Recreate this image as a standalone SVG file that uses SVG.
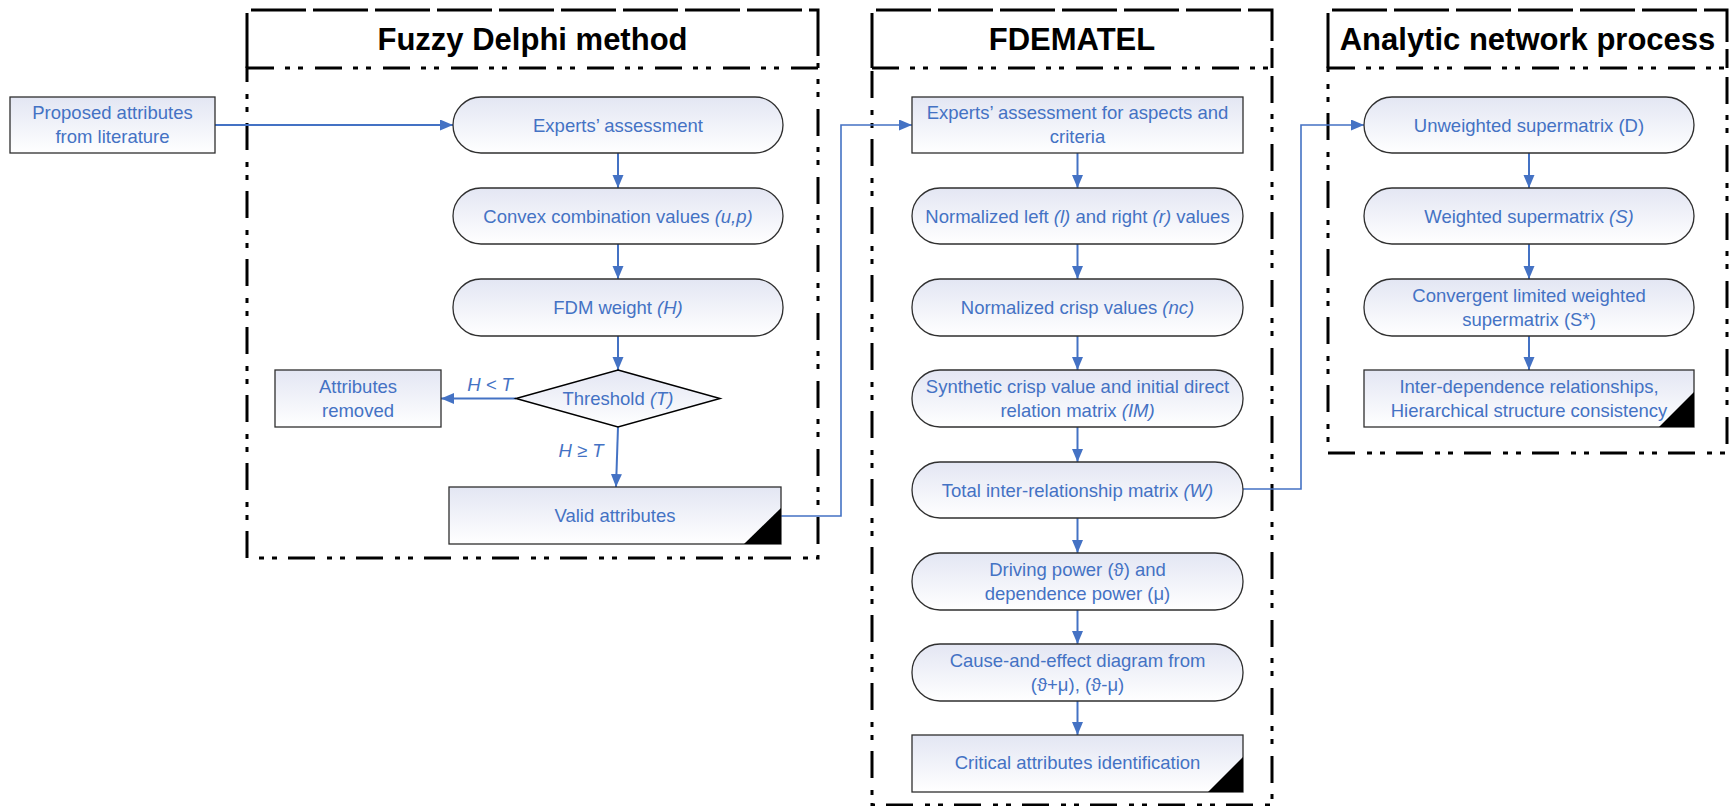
<svg xmlns="http://www.w3.org/2000/svg" width="1730" height="806" viewBox="0 0 1730 806">
<style>
.node{fill:url(#ng);stroke:#2F2F2F;stroke-width:1.3}
.dia{fill:url(#ng);stroke:#000;stroke-width:1.5}
.corner{fill:#000;stroke:none}
.t{font-family:'Liberation Sans',Arial,sans-serif;font-size:18.5px;fill:#4472C4;text-anchor:middle}
.i{font-style:italic}
.title{font-family:'Liberation Sans',Arial,sans-serif;font-size:31px;font-weight:bold;fill:#000;text-anchor:middle}
.head{fill:none;stroke:#000;stroke-width:3;stroke-dasharray:55 7}
.frame{fill:none;stroke:#000;stroke-width:3;stroke-dasharray:27 11 5 8 5 12}
.conn{fill:none;stroke:#4472C4;stroke-width:2;marker-end:url(#arr)}
.conn2{fill:none;stroke:#4472C4;stroke-width:1.6;marker-end:url(#arr)}
</style>
<defs>
<linearGradient id="ng" x1="0" y1="0" x2="0" y2="1">
<stop offset="0" stop-color="#E3E6F3"/>
<stop offset="1" stop-color="#FFFFFF"/>
</linearGradient>
<marker id="arr" markerUnits="userSpaceOnUse" markerWidth="14" markerHeight="12" refX="13" refY="5.5" orient="auto">
<path d="M0,0 L13,5.5 L0,11 z" fill="#4472C4"/>
</marker>
</defs>

<g id="frames">
<g id="frame-fdm">
<path class="head" d="M247,68 V10 H818 V68"/>
<rect class="frame" x="247" y="68" width="571" height="490"/>
<text class="title" x="532.5" y="50">Fuzzy Delphi method</text>
</g>
<g id="frame-fdematel">
<path class="head" d="M872,68 V10 H1272 V68"/>
<rect class="frame" x="872" y="68" width="400" height="737"/>
<text class="title" x="1072" y="50">FDEMATEL</text>
</g>
<g id="frame-anp">
<path class="head" d="M1328,68 V10 H1727 V68"/>
<rect class="frame" x="1328" y="68" width="399" height="385"/>
<text class="title" x="1527.5" y="50">Analytic network process</text>
</g>
</g>

<g id="connectors">
<path class="conn" d="M215,125 H453"/>
<path class="conn" d="M618,153 V188"/>
<path class="conn" d="M618,244 V279"/>
<path class="conn" d="M618,336 V370"/>
<path class="conn" d="M618,427 L616,487"/>
<path class="conn" d="M516,398.5 H441"/>
<path class="conn2" d="M781,516 H841 V125 H912"/>
<path class="conn" d="M1077.5,153 V188"/>
<path class="conn" d="M1077.5,244 V279"/>
<path class="conn" d="M1077.5,336 V370"/>
<path class="conn" d="M1077.5,427 V462"/>
<path class="conn" d="M1077.5,518 V553"/>
<path class="conn" d="M1077.5,610 V644"/>
<path class="conn" d="M1077.5,701 V735"/>
<path class="conn2" d="M1243,489 H1301 V125 H1364"/>
<path class="conn" d="M1529,153 V188"/>
<path class="conn" d="M1529,244 V279"/>
<path class="conn" d="M1529,336 V370"/>
<text class="t i" x="490" y="390.5">H &lt; T</text>
<text class="t i" x="581" y="456.5">H ≥ T</text>
</g>

<g id="n-proposed">
<rect class="node" x="10" y="97" width="205" height="56"/>
<text class="t" x="112.5" y="119">Proposed attributes</text>
<text class="t" x="112.5" y="143">from literature</text>
</g>

<g id="n-fdm-experts">
<rect class="node" x="453" y="97" width="330" height="56" rx="28"/>
<text class="t" x="618" y="131.5">Experts’ assessment</text>
</g>
<g id="n-fdm-convex">
<rect class="node" x="453" y="188" width="330" height="56" rx="28"/>
<text class="t" x="618" y="222.5">Convex combination values <tspan class="i">(u,p)</tspan></text>
</g>
<g id="n-fdm-weight">
<rect class="node" x="453" y="279" width="330" height="57" rx="28"/>
<text class="t" x="618" y="313.5">FDM weight <tspan class="i">(H)</tspan></text>
</g>
<g id="n-threshold">
<polygon class="dia" points="618,370 720,398.5 618,427 516,398.5"/>
<text class="t" x="618" y="405">Threshold <tspan class="i">(T)</tspan></text>
</g>
<g id="n-removed">
<rect class="node" x="275" y="370" width="166" height="57"/>
<text class="t" x="358" y="392.5">Attributes</text>
<text class="t" x="358" y="416.5">removed</text>
</g>
<g id="n-valid">
<rect class="node" x="449" y="487" width="332" height="57"/>
<polygon class="corner" points="781,508 781,544 744,544"/>
<text class="t" x="615" y="522">Valid attributes</text>
</g>

<g id="n-fde-experts">
<rect class="node" x="912" y="97" width="331" height="56"/>
<text class="t" x="1077.5" y="119">Experts’ assessment for aspects and</text>
<text class="t" x="1077.5" y="143">criteria</text>
</g>
<g id="n-fde-normlr">
<rect class="node" x="912" y="188" width="331" height="56" rx="28"/>
<text class="t" x="1077.5" y="222.5">Normalized left <tspan class="i">(l)</tspan> and right <tspan class="i">(r)</tspan> values</text>
</g>
<g id="n-fde-crisp">
<rect class="node" x="912" y="279" width="331" height="57" rx="28"/>
<text class="t" x="1077.5" y="313.5">Normalized crisp values <tspan class="i">(nc)</tspan></text>
</g>
<g id="n-fde-synth">
<rect class="node" x="912" y="370" width="331" height="57" rx="28"/>
<text class="t" x="1077.5" y="392.5">Synthetic crisp value and initial direct</text>
<text class="t" x="1077.5" y="416.5">relation matrix  <tspan class="i">(IM)</tspan></text>
</g>
<g id="n-fde-total">
<rect class="node" x="912" y="462" width="331" height="56" rx="28"/>
<text class="t" x="1077.5" y="496.5">Total inter-relationship matrix  <tspan class="i">(W)</tspan></text>
</g>
<g id="n-fde-driving">
<rect class="node" x="912" y="553" width="331" height="57" rx="28"/>
<text class="t" x="1077.5" y="575.5">Driving power (ϑ) and</text>
<text class="t" x="1077.5" y="599.5">dependence power (μ)</text>
</g>
<g id="n-fde-cause">
<rect class="node" x="912" y="644" width="331" height="57" rx="28"/>
<text class="t" x="1077.5" y="666.5">Cause-and-effect diagram from</text>
<text class="t" x="1077.5" y="690.5">(ϑ+μ), (ϑ-μ)</text>
</g>
<g id="n-fde-critical">
<rect class="node" x="912" y="735" width="331" height="57"/>
<polygon class="corner" points="1243,757 1243,792 1208,792"/>
<text class="t" x="1077.5" y="769">Critical attributes identification</text>
</g>

<g id="n-anp-unweighted">
<rect class="node" x="1364" y="97" width="330" height="56" rx="28"/>
<text class="t" x="1529" y="131.5">Unweighted supermatrix  (D)</text>
</g>
<g id="n-anp-weighted">
<rect class="node" x="1364" y="188" width="330" height="56" rx="28"/>
<text class="t" x="1529" y="222.5">Weighted supermatrix <tspan class="i">(S)</tspan></text>
</g>
<g id="n-anp-convergent">
<rect class="node" x="1364" y="279" width="330" height="57" rx="28"/>
<text class="t" x="1529" y="301.5">Convergent limited weighted</text>
<text class="t" x="1529" y="325.5">supermatrix (S*)</text>
</g>
<g id="n-anp-inter">
<rect class="node" x="1364" y="370" width="330" height="57"/>
<polygon class="corner" points="1694,392 1694,427 1659,427"/>
<text class="t" x="1529" y="392.5">Inter-dependence relationships,</text>
<text class="t" x="1529" y="416.5">Hierarchical structure consistency</text>
</g>
</svg>
